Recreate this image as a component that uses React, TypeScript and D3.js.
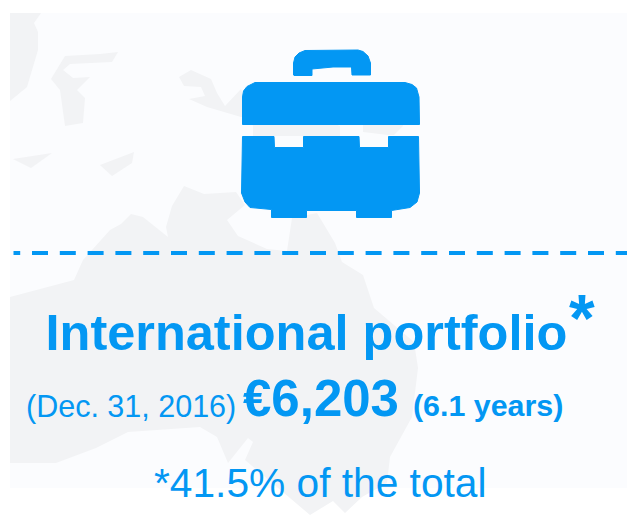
import * as d3 from 'd3';

const W = 627;
const H = 517;
const BLUE = '#0397f3';
const PANEL = '#fbfcfe';
const LAND = '#f2f3f5';

type Pt = [number, number];

// background map pieces
const landTopLeft: Pt[] = [[10, 13], [41, 13], [34, 23], [38, 32], [38, 50], [27, 87], [10, 101]];
const landIslandA: Pt[] = [[65, 56], [100, 54], [118, 52], [112, 62], [70, 64], [63, 70], [73, 78], [90, 77], [77, 90], [85, 98], [83, 123], [65, 126], [60, 90], [51, 79]];
const landIslandB: Pt[] = [[13, 159], [52, 153], [31, 168]];
const landIslandC: Pt[] = [[100, 165], [134, 152], [132, 163], [112, 176]];
const landNorth: Pt[] = [[179, 77], [191, 70], [211, 79], [217, 93], [225, 106], [241, 89], [253, 126], [253, 136], [340, 136], [340, 126], [300, 110], [241, 117], [207, 107], [189, 99], [205, 96], [201, 87], [184, 86]];
const landNorthEast: Pt[] = [[363, 127], [363, 132], [388, 135], [394, 135], [403, 126], [400, 110], [363, 110]];
const landAustralia: Pt[] = [
  [10, 297], [74, 280], [83, 260], [110, 230], [121, 224], [131, 214], [143, 217], [168, 237], [166, 227], [172, 206],
  [184, 186], [204, 194], [236, 192], [245, 205], [227, 220], [238, 236], [267, 249], [287, 251], [292, 218], [317, 213],
  [335, 243], [342, 262], [363, 275], [374, 308], [414, 342], [418, 368], [412, 417], [390, 457], [387, 483], [362, 497],
  [345, 513], [333, 501], [310, 515], [245, 460], [253, 442], [248, 438], [228, 463], [217, 437], [200, 427], [128, 432],
  [96, 448], [56, 463], [10, 463],
];
const landPieces = [landTopLeft, landIslandA, landIslandB, landIslandC, landNorth, landNorthEast, landAustralia];

// briefcase icon
const handle: Pt[] = [[293.5, 75], [293.5, 63], [295, 57], [299, 53], [305, 50.5], [358, 50], [363, 51.5], [368, 56], [370.5, 63], [370.5, 75], [352, 75], [351.5, 67], [333, 67], [312, 69], [312, 75.5], [294, 75.5]];
const lid: Pt[] = [[242.5, 124.5], [242.5, 97], [243.5, 91], [247, 86.5], [255, 82.5], [405, 82.5], [412, 84.5], [416.5, 88], [419, 97], [419.5, 124.5]];
const body: Pt[] = [
  [242.5, 136.5], [274, 136.5], [274.5, 147.5], [303.5, 147.5], [303.5, 136.5], [359, 136.5], [359.5, 147.5], [388.5, 147.5], [388.5, 136.5], [418.5, 136.5],
  [419.5, 193], [417, 202], [410, 207.5], [391.5, 210.5], [391.5, 217.5], [356.5, 217.5], [356.5, 210.5], [306.5, 210.5], [306.5, 217.5], [271.5, 217.5],
  [271.5, 209.5], [250, 207.5], [245, 202], [241.5, 193],
];
const iconPieces = [handle, lid, body];

const poly = d3.line<Pt>().curve(d3.curveLinearClosed);

export default function App() {
  return (
    <svg
      width={W}
      height={H}
      style={{ position: 'fixed', left: 0, top: 0, background: '#fff' }}
      fontFamily="'Liberation Sans', Arial, sans-serif"
    >
      <rect x={10} y={13} width={617} height={475} fill={PANEL} />
      {landPieces.map((p, i) => <path key={i} d={poly(p) ?? ''} fill={LAND} />)}
      {iconPieces.map((p, i) => (
        <path key={i} d={poly(p) ?? ''} fill={BLUE} stroke={BLUE} strokeWidth={1} strokeLinejoin="round" />
      ))}
      <line x1={13.5} x2={W} y1={253} y2={253} stroke={BLUE} strokeWidth={4} strokeDasharray="16 11.8" strokeDashoffset={9.3} />
      <g fill={BLUE}>
        <text x={45.5} y={350} fontSize={50.5} fontWeight="bold">International portfolio</text>
        <text x={569} y={341} fontSize={66} fontWeight="bold">*</text>
        <text x={26} y={417} fontSize={30.5}>(Dec. 31, 2016)</text>
        <text x={243} y={416} fontSize={51} fontWeight="bold">€6,203</text>
        <text x={413} y={416} fontSize={30.4} fontWeight="bold">(6.1 years)</text>
        <text x={154} y={497} fontSize={40.7}>*41.5% of the total</text>
      </g>
    </svg>
  );
}
